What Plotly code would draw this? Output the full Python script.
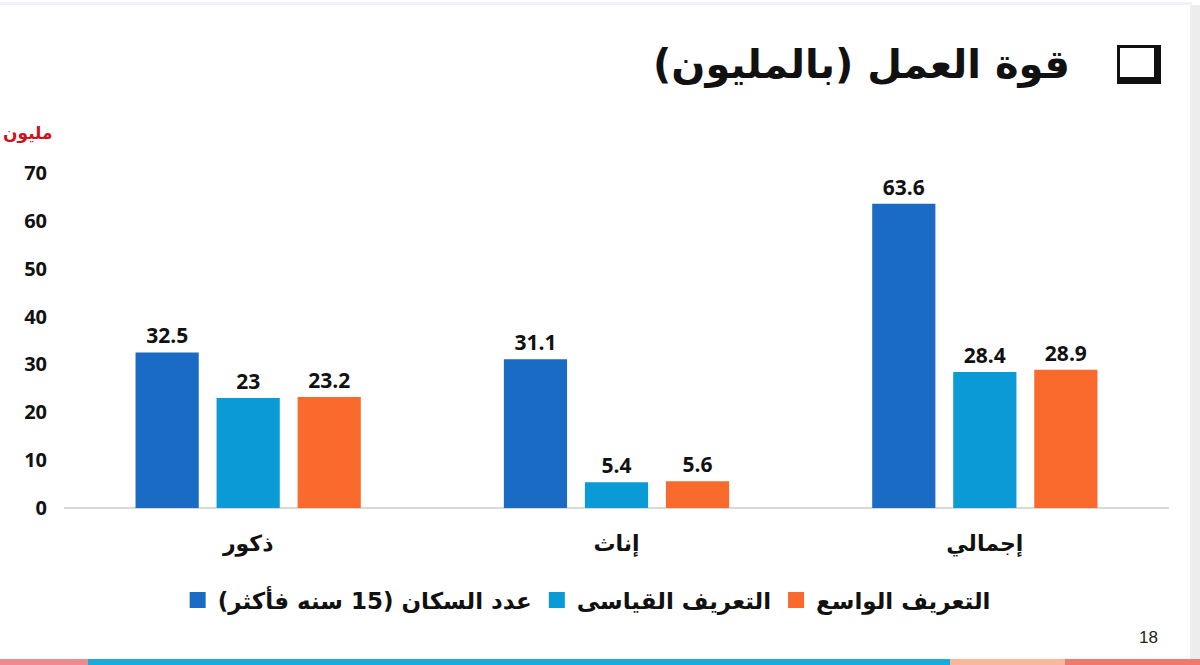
import plotly.graph_objects as go

categories = ["ذكور", "إناث", "إجمالي"]
series_names = ["عدد السكان (15 سنه فأكثر)", "التعريف القياسى", "التعريف الواسع"]
population = [32.5, 31.1, 63.6]
standard_def = [23, 5.4, 28.4]
broad_def = [23.2, 5.6, 28.9]
y_ticks = [0, 10, 20, 30, 40, 50, 60, 70]

colors = ["#1A6BC4", "#0A9BD6", "#FA6A2C"]
values = [population, standard_def, broad_def]

label_font = dict(family="Open Sans", size=21, color="#111111")
arabic_font = "DejaVu Sans"

fig = go.Figure()
for name, vals, col in zip(series_names, values, colors):
    fig.add_trace(go.Bar(
        x=categories, y=vals, name=name, showlegend=False,
        marker=dict(color=col, line=dict(width=0)),
        text=[f"<b>{v:g}</b>" for v in vals], textposition="outside",
        textfont=label_font, cliponaxis=False,
    ))
# legend entries with larger square symbols
for name, col in zip(series_names, colors):
    fig.add_trace(go.Scatter(
        x=[None], y=[None], mode="markers", name=f"<b>{name}</b>",
        marker=dict(symbol="square", size=16, color=col),
    ))

fig.update_layout(
    width=1200, height=665,
    margin=dict(l=64, r=31, t=173, b=157),
    paper_bgcolor="white", plot_bgcolor="white",
    barmode="group", bargap=0.34, bargroupgap=0.22,
    showlegend=True,
    legend=dict(orientation="h", x=0.473, xanchor="center", y=-0.275, yanchor="middle",
                font=dict(family=arabic_font, size=23, color="#111111"),
                traceorder="normal", itemwidth=30),
    xaxis=dict(range=[-0.5, 2.5], showgrid=False, showline=False, zeroline=False,
               ticks="", tickfont=dict(family=arabic_font, size=22, color="#111111"),
               ticklabelstandoff=20),
    yaxis=dict(range=[0, 70], tickvals=y_ticks, showgrid=False, showline=False,
               zeroline=True, zerolinecolor="#D9D9D9", zerolinewidth=1.5,
               tickfont=dict(family="Open Sans", size=20, color="#111111"),
               ticklabelstandoff=16),
    font=dict(family=arabic_font),
)
fig.update_xaxes(ticktext=[f"<b>{c}</b>" for c in categories], tickvals=categories)
fig.update_yaxes(ticktext=[f"<b>{t}</b>" for t in y_ticks])

# Title
fig.add_annotation(xref="paper", yref="paper",
                   x=(1072 - 64) / 1105, y=(508 - 64) / 335.0,
                   xanchor="right", yanchor="middle", showarrow=False,
                   text="<b>قوة العمل (بالمليون)</b>",
                   font=dict(family=arabic_font, size=40, color="#111111"))
# y unit label
fig.add_annotation(xref="paper", yref="paper",
                   x=(28 - 64) / 1105, y=(508 - 133) / 335.0,
                   xanchor="center", yanchor="middle", showarrow=False,
                   text="<b>مليون</b>", font=dict(family=arabic_font, size=17, color="#D0121B"))
# page number
fig.add_annotation(xref="paper", yref="paper",
                   x=(1160 - 64) / 1105, y=(508 - 637) / 335.0,
                   xanchor="right", yanchor="middle", showarrow=False,
                   text="18", font=dict(family="Liberation Sans", size=17, color="#222222"))

def px_rect(x0, y0, x1, y1, color, layer="below"):
    fig.add_shape(type="rect", xref="paper", yref="paper",
                  x0=(x0 - 64) / 1105, x1=(x1 - 64) / 1105,
                  y0=(508 - y1) / 335.0, y1=(508 - y0) / 335.0,
                  fillcolor=color, line=dict(width=0), layer=layer)

# shadowed bullet box of the title
px_rect(1117, 45, 1161, 84, "#111111", "above")
px_rect(1120, 48, 1154, 77, "#FFFFFF", "above")

# slide decorations
px_rect(0, 659, 88, 665, "#EC8A8F")
px_rect(88, 659, 950, 665, "#17ACDC")
px_rect(950, 659, 1065, 665, "#F9B89C")
px_rect(1065, 659, 1200, 665, "#F0786C")
px_rect(0, 2, 1192, 5, "#EEF2FB")
px_rect(1190, 5, 1200, 659, "#EDEDED")

fig.write_html("out.html")
